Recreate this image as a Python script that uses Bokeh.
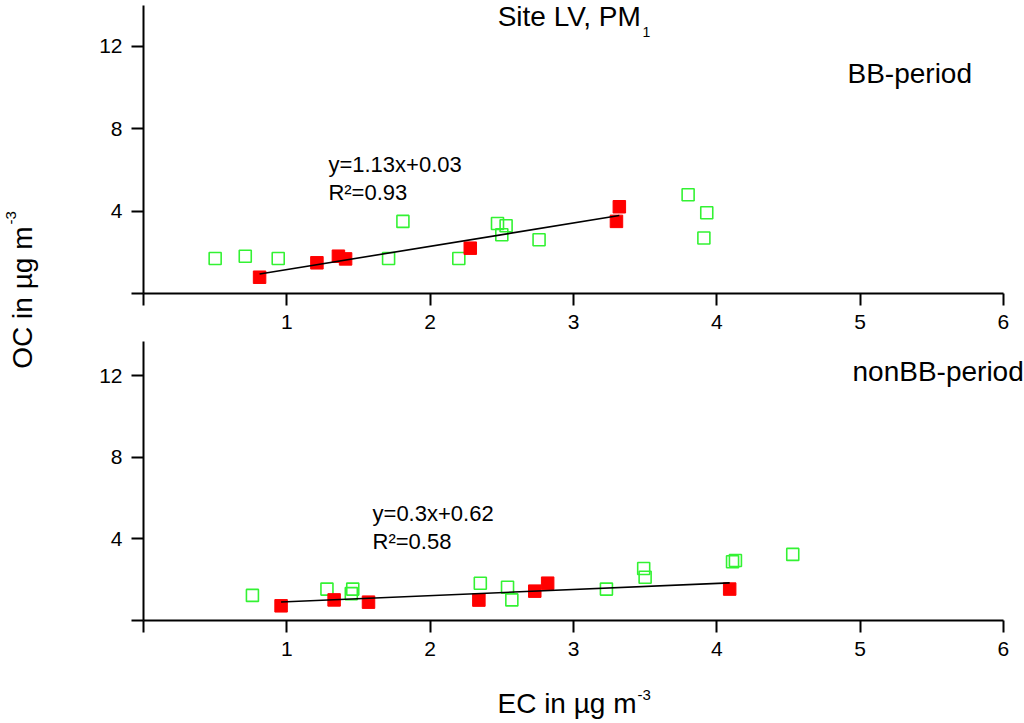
import numpy as np
from bokeh.plotting import figure
from bokeh.layouts import row, column
from bokeh.models import Range1d, FixedTicker, Label
from bokeh.embed import file_html
from bokeh.resources import INLINE

# ---------------- data ----------------
bb_red_x = [0.81, 1.21, 1.36, 1.41, 2.28, 3.32, 3.30]
bb_red_y = [0.79, 1.49, 1.81, 1.68, 2.20, 4.21, 3.50]
bb_green_x = [0.50, 0.71, 0.94, 1.71, 1.81, 2.20, 2.47, 2.50, 2.53, 2.76, 3.80, 3.93, 3.91]
bb_green_y = [1.70, 1.81, 1.70, 1.70, 3.50, 1.70, 3.40, 2.85, 3.29, 2.61, 4.79, 3.92, 2.69]
bb_fit = [1.13, 0.03]       # slope, intercept
bb_r2 = 0.93

nonbb_red_x = [0.96, 1.33, 1.57, 2.34, 2.73, 2.82, 4.09]
nonbb_red_y = [0.72, 1.01, 0.90, 1.00, 1.44, 1.83, 1.54]
nonbb_green_x = [0.76, 1.28, 1.45, 1.46, 2.35, 2.54, 2.57, 3.23, 3.49, 3.50, 4.11, 4.13, 4.53]
nonbb_green_y = [1.23, 1.54, 1.32, 1.54, 1.83, 1.63, 1.01, 1.54, 2.55, 2.12, 2.88, 2.94, 3.24]
nonbb_fit = [0.3, 0.62]
nonbb_r2 = 0.58

x_ticks = [0, 1, 2, 3, 4, 5, 6]
y_ticks = [0, 4, 8, 12]
x_bounds = (0, 6)
y_bounds = (0, 14)

FONT = "Liberation Sans"
GREEN = "#33f233"
RED = "#ff0000"
X_END = 6.147


def style_axes(p):
    for ax in (p.xaxis[0], p.yaxis[0]):
        ax.axis_line_width = 2
        ax.axis_line_color = "black"
        ax.major_tick_line_width = 2
        ax.major_tick_line_color = "black"
        ax.major_tick_out = 12
        ax.major_tick_in = 0
        ax.minor_tick_out = 0
        ax.minor_tick_in = 0
        ax.major_label_text_font = FONT
        ax.major_label_text_font_size = "21px"
        ax.major_label_text_color = "black"
        ax.major_label_standoff = 9
    p.xaxis[0].ticker = FixedTicker(ticks=x_ticks)
    p.xaxis[0].major_label_overrides = {0: ""}
    p.xaxis[0].bounds = x_bounds
    p.yaxis[0].ticker = FixedTicker(ticks=y_ticks)
    p.yaxis[0].major_label_overrides = {0: ""}
    p.yaxis[0].bounds = y_bounds
    p.grid.visible = False
    p.outline_line_color = None


def panel(height, y_end, gx, gy, rx, ry, fit):
    p = figure(width=966, height=height, title=None,
               x_range=Range1d(0, X_END), y_range=Range1d(0, y_end),
               min_border_left=85, min_border_right=0,
               min_border_top=0, min_border_bottom=48,
               toolbar_location=None, output_backend="svg")
    style_axes(p)
    p.scatter(gx, gy, marker="square", size=12, fill_color=None,
              line_color=GREEN, line_width=1.6)
    p.scatter(rx, ry, marker="square", size=12.5, fill_color=RED,
              line_color=RED, line_width=1)
    xs = np.array([min(rx), max(rx)])
    p.line(xs, fit[0] * xs + fit[1], line_color="black", line_width=1.6)
    return p


top = panel(341, 14.22, bb_green_x, bb_green_y, bb_red_x, bb_red_y, bb_fit)
bot = panel(327, 13.68, nonbb_green_x, nonbb_green_y, nonbb_red_x, nonbb_red_y, nonbb_fit)


def lab(p, x, y, text, size, align="left", angle=0.0):
    p.add_layout(Label(x=x, y=y, text=text, text_font=FONT,
                       text_font_size=size, text_color="black",
                       text_align=align, text_baseline="alphabetic",
                       angle=angle))


# top panel texts
lab(top, 3.470, 13.45, "Site LV, PM", "28px", align="right")
lab(top, 3.482, 12.67, "1", "14px")
lab(top, 4.912, 10.68, "BB-period", "28px")
lab(top, 1.29, 6.26, "y=%gx+%g" % (bb_fit[0], bb_fit[1]), "22px")
lab(top, 1.29, 4.90, "R²=%g" % bb_r2, "22px")

# bottom panel texts
lab(bot, 4.947, 12.21, "nonBB-period", "28px")
lab(bot, 1.598, 5.26, "y=%gx+%g" % (nonbb_fit[0], nonbb_fit[1]), "22px")
lab(bot, 1.598, 3.86, "R²=%g" % nonbb_r2, "22px")

# strip below the bottom panel with the x label (x in data units, y = page pixels)
xstrip = figure(width=966, height=53, title=None,
                x_range=Range1d(0, X_END), y_range=Range1d(721, 668),
                x_axis_type=None, y_axis_type=None,
                min_border_left=85, min_border_right=0,
                min_border_top=0, min_border_bottom=0,
                toolbar_location=None, output_backend="svg")
xstrip.outline_line_color = None
xstrip.grid.visible = False
lab(xstrip, 3.440, 703, "EC in µg m", "28px", align="right")
lab(xstrip, 3.447, 694, "-3", "15px")

# left strip with the shared y label (data units = page pixels)
left = figure(width=58, height=721, title=None,
              x_range=Range1d(0, 58), y_range=Range1d(721, 0),
              x_axis_type=None, y_axis_type=None, min_border=0,
              toolbar_location=None, output_backend="svg")
left.outline_line_color = None
left.grid.visible = False
lab(left, 22, 226, "OC in µg m", "28px", align="right", angle=np.pi / 2)
lab(left, 10, 224, "-3", "15px", align="left", angle=np.pi / 2)

layout = row(left, column(top, bot, xstrip))

open("out.html", "w").write(file_html(layout, INLINE))
